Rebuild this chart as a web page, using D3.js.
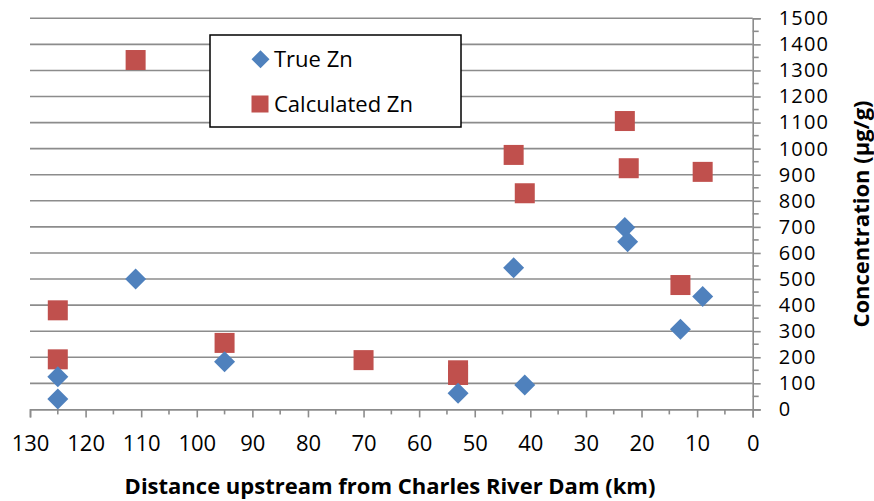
<!DOCTYPE html>
<html><head><meta charset="utf-8">
<script src="https://cdn.jsdelivr.net/npm/d3@7"></script>
<style>body{margin:0;background:#fff}svg{display:block}text{font-family:"Open Sans",sans-serif}</style>
</head><body>
<script>
const trueDist = [125, 125, 111, 95, 43, 23, 22.5, 9, 13, 53, 41];
const trueZn   = [40, 125, 500, 183, 543, 698, 643, 433, 307, 62, 94];
const calcDist = [111, 125, 125, 95, 70, 53, 53, 43, 41, 23, 22.3, 9, 13];
const calcZn   = [1340, 380, 192, 255, 189, 150, 132, 976, 829, 1106, 925, 911, 477];
const xTicks = [130,120,110,100,90,80,70,60,50,40,30,20,10,0];
const yTicks = d3.range(0, 1501, 100);
const seriesNames = ["True Zn", "Calculated Zn"];

const W = 874, H = 501;
const svg = d3.select("body").append("svg").attr("width", W).attr("height", H);
const x = d3.scaleLinear().domain([130, 0]).range([30, 752.7]);
const y = d3.scaleLinear().domain([0, 1500]).range([409.4, 18.3]);
const grid = "#8c8c8c";
const tickFont = "'Liberation Sans', Arial, sans-serif";

// gridlines
svg.append("g").selectAll("line").data(yTicks.filter(d => d > 0)).join("line")
  .attr("x1", 30).attr("x2", 752.7).attr("y1", d => y(d)).attr("y2", d => y(d))
  .attr("stroke", grid).attr("stroke-width", 1.6);

// x axis
const xa = svg.append("g").attr("transform", `translate(0,${y(0)})`)
  .call(d3.axisBottom(x).tickValues(xTicks).tickSize(8).tickPadding(18).tickFormat(d3.format("d")));
xa.select(".domain").attr("stroke", grid).attr("stroke-width", 1.6);
xa.selectAll(".tick line").attr("stroke", grid).attr("stroke-width", 1.6);
xa.selectAll(".tick text").attr("font-size", 22).attr("fill", "#000").attr("font-family", tickFont);
svg.append("g").attr("transform", `translate(0,${y(0)})`).selectAll("line")
  .data(d3.range(5, 130, 10)).join("line")
  .attr("x1", d => x(d)).attr("x2", d => x(d)).attr("y1", 0).attr("y2", 5)
  .attr("stroke", grid).attr("stroke-width", 1.6);

// y axis right
const ya = svg.append("g").attr("transform", `translate(${x(0)},0)`)
  .call(d3.axisRight(y).tickValues(yTicks).tickSize(8).tickPadding(18).tickFormat(d3.format("d")));
ya.select(".domain").attr("stroke", grid).attr("stroke-width", 1.6);
ya.selectAll(".tick line").attr("stroke", grid).attr("stroke-width", 1.6);
ya.selectAll(".tick text").attr("font-size", 20).attr("letter-spacing", 1.2).attr("fill", "#000").attr("font-family", tickFont);
svg.append("g").attr("transform", `translate(${x(0)},0)`).selectAll("line")
  .data(d3.range(50, 1500, 100)).join("line")
  .attr("x1", 0).attr("x2", 6).attr("y1", d => y(d)).attr("y2", d => y(d))
  .attr("stroke", grid).attr("stroke-width", 1.6);

// titles
svg.append("text").attr("x", 390).attr("y", 494).attr("text-anchor", "middle")
  .attr("font-size", 22).attr("font-weight", "bold").text("Distance upstream from Charles River Dam (km)");
svg.append("text").attr("transform", "translate(869,214) rotate(-90)").attr("text-anchor", "middle")
  .attr("font-size", 22).attr("font-weight", "bold").text("Concentration (µg/g)");

const blue = "#4F81BD", red = "#C0504D";
const diamond = (cx, cy, r) => `M${cx},${cy - r}L${cx + r},${cy}L${cx},${cy + r}L${cx - r},${cy}Z`;

// calculated squares
svg.append("g").selectAll("rect").data(calcDist.map((d, i) => [d, calcZn[i]])).join("rect")
  .attr("x", d => x(d[0]) - 10).attr("y", d => y(d[1]) - 10).attr("width", 20).attr("height", 20)
  .attr("fill", red);
// true diamonds
svg.append("g").selectAll("path").data(trueDist.map((d, i) => [d, trueZn[i]])).join("path")
  .attr("d", d => diamond(x(d[0]), y(d[1]), 10.5)).attr("fill", blue);

// legend
const lg = svg.append("g");
lg.append("rect").attr("x", 210).attr("y", 35).attr("width", 251).attr("height", 92)
  .attr("fill", "#fff").attr("stroke", "#000").attr("stroke-width", 1.5);
lg.append("path").attr("d", diamond(260.5, 59.3, 9)).attr("fill", blue);
lg.append("rect").attr("x", 251.5).attr("y", 95.5).attr("width", 17).attr("height", 17).attr("fill", red);
lg.append("text").attr("x", 274).attr("y", 67).attr("font-size", 22).text(seriesNames[0]);
lg.append("text").attr("x", 274).attr("y", 112).attr("font-size", 22).text(seriesNames[1]);
</script>
</body></html>
